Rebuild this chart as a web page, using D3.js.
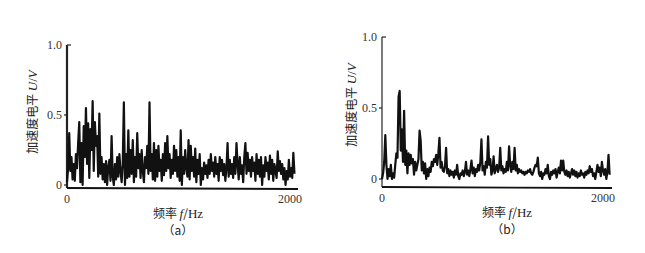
<!DOCTYPE html>
<html lang="zh">
<head>
<meta charset="UTF-8">
<title>加速度电平频谱</title>
<script src="https://d3js.org/d3.v7.min.js"></script>
<style>
  body { margin: 0; background: #fff; }
  svg { display: block; }
</style>
</head>
<body>
<script>
// frequency step between samples (Hz)
const step = 10;
const yTicks = [0, 0.5, 1.0];
const yTickLabels = ["0", "0.5", "1.0"];
const xTicks = [0, 2000];

// (a) acceleration level U/V, one value per 10 Hz
const levelA = [
  0.02, 0.12, 0.37, 0.10, 0.20, 0.04, 0.15, 0.03, 0.22, 0.12,
  0.30, 0.45, 0.02, 0.30, 0.00, 0.42, 0.20, 0.55, 0.15, 0.44,
  0.05, 0.40, 0.25, 0.60, 0.10, 0.45, 0.28, 0.35, 0.06, 0.51,
  0.08, 0.20, 0.04, 0.15, 0.02, 0.17, 0.00, 0.13, 0.18, 0.03,
  0.35, 0.06, 0.00, 0.15, 0.04, 0.20, 0.06, 0.22, 0.10, 0.02,
  0.15, 0.59, 0.00, 0.22, 0.05, 0.39, 0.06, 0.25, 0.08, 0.32,
  0.02, 0.20, 0.06, 0.37, 0.12, 0.22, 0.05, 0.25, 0.10, 0.02,
  0.20, 0.12, 0.28, 0.08, 0.59, 0.10, 0.22, 0.04, 0.30, 0.03,
  0.25, 0.06, 0.28, 0.10, 0.18, 0.03, 0.22, 0.07, 0.30, 0.10,
  0.35, 0.12, 0.22, 0.05, 0.18, 0.08, 0.28, 0.10, 0.25, 0.06,
  0.20, 0.03, 0.39, 0.00, 0.20, 0.08, 0.25, 0.12, 0.06, 0.32,
  0.04, 0.28, 0.10, 0.20, 0.06, 0.26, 0.02, 0.18, 0.08, 0.22,
  0.00, 0.12, 0.04, 0.16, 0.08, 0.14, 0.05, 0.18, 0.08, 0.22,
  0.10, 0.16, 0.06, 0.20, 0.08, 0.15, 0.03, 0.20, 0.10, 0.18,
  0.07, 0.15, 0.03, 0.12, 0.30, 0.06, 0.18, 0.08, 0.15, 0.05,
  0.20, 0.08, 0.30, 0.15, 0.04, 0.20, 0.08, 0.14, 0.02, 0.20,
  0.30, 0.08, 0.23, 0.10, 0.18, 0.06, 0.20, 0.10, 0.16, 0.03,
  0.22, 0.08, 0.18, 0.06, 0.20, 0.00, 0.14, 0.06, 0.20, 0.10,
  0.16, 0.04, 0.21, 0.08, 0.18, 0.03, 0.15, 0.10, 0.05, 0.24,
  0.10, 0.17, 0.08, 0.15, 0.04, 0.12, 0.00, 0.10, 0.04, 0.18,
  0.06, 0.12, 0.05, 0.23, 0.08
];

// (b)
const levelB = [
  0.00, 0.04, 0.12, 0.31, 0.10, 0.00, 0.07, 0.02, 0.10, 0.00,
  0.04, 0.01, 0.10, 0.18, 0.15, 0.58, 0.62, 0.20, 0.35, 0.12,
  0.48, 0.10, 0.20, 0.04, 0.18, 0.10, 0.17, 0.11, 0.14, 0.03,
  0.12, 0.06, 0.10, 0.14, 0.34, 0.27, 0.06, 0.12, 0.04, 0.11,
  0.00, 0.07, 0.02, 0.08, 0.05, 0.12, 0.09, 0.14, 0.12, 0.17,
  0.10, 0.18, 0.29, 0.08, 0.12, 0.06, 0.05, 0.09, 0.22, 0.04,
  0.07, 0.02, 0.06, 0.03, 0.05, 0.01, 0.06, 0.03, 0.10, 0.02,
  0.00, 0.04, 0.03, 0.06, 0.02, 0.05, 0.12, 0.03, 0.06, 0.02,
  0.07, 0.13, 0.04, 0.08, 0.02, 0.07, 0.05, 0.10, 0.06, 0.12,
  0.28, 0.06, 0.09, 0.03, 0.12, 0.08, 0.30, 0.10, 0.14, 0.03,
  0.06, 0.16, 0.04, 0.07, 0.10, 0.05, 0.08, 0.22, 0.06, 0.09,
  0.04, 0.07, 0.05, 0.12, 0.06, 0.23, 0.10, 0.05, 0.12, 0.07,
  0.22, 0.06, 0.10, 0.04, 0.07, 0.05, 0.06, 0.04, 0.05, 0.03,
  0.05, 0.04, 0.06, 0.05, 0.07, 0.04, 0.03, 0.05, 0.08, 0.10,
  0.09, 0.15, 0.04, 0.02, 0.05, 0.00, 0.04, 0.03, 0.07, 0.04,
  0.10, 0.02, 0.00, 0.05, 0.03, 0.06, 0.04, 0.07, 0.01, 0.05,
  0.08, 0.04, 0.13, 0.06, 0.13, 0.05, 0.03, 0.06, 0.02, 0.05,
  0.01, 0.04, 0.07, 0.03, 0.06, 0.02, 0.05, 0.01, 0.04, 0.02,
  0.06, 0.03, 0.04, 0.01, 0.05, 0.03, 0.06, 0.04, 0.09, 0.05,
  0.07, 0.02, 0.04, 0.00, 0.05, 0.10, 0.05, 0.08, 0.02, 0.12,
  0.06, 0.03, 0.07, 0.00, 0.05, 0.17, 0.03
];

const serif = "'Liberation Serif', 'DejaVu Serif', serif";
const cjk = "'Noto Sans CJK SC', sans-serif";

const svg = d3.select("body").append("svg")
  .attr("width", 645)
  .attr("height", 253);

const panels = [
  { data: levelA, tag: "（a）", x0: 67, x1: 290, y0: 185, y1: 45, axisY: 188, xEnd: 298, yLabelX: 33, yAxisW: 2.2, titleX: 178 },
  { data: levelB, tag: "（b）", x0: 382, x1: 603, y0: 179, y1: 37, axisY: 187, xEnd: 612, yLabelX: 352, yAxisW: 1.2, titleX: 507 }
];

panels.forEach(p => {
  const g = svg.append("g");
  const x = d3.scaleLinear().domain([0, 2000]).range([p.x0, p.x1]);
  const y = d3.scaleLinear().domain([0, 1]).range([p.y0, p.y1]);

  // y axis
  g.append("line")
    .attr("x1", x(0)).attr("x2", x(0))
    .attr("y1", y(1)).attr("y2", p.axisY)
    .attr("stroke", "#222").attr("stroke-width", p.yAxisW);
  g.selectAll(".ytick").data(yTicks).enter().append("line")
    .attr("x1", x(0)).attr("x2", (d, i) => x(0) + (i === 2 ? 4 : -3))
    .attr("y1", d => y(d)).attr("y2", d => y(d))
    .attr("stroke", "#222").attr("stroke-width", 1.2);
  g.selectAll(".ylab").data(yTicks).enter().append("text")
    .attr("font-family", serif).attr("font-size", 12).attr("fill", "#333")
    .attr("x", x(0) - 5)
    .attr("y", d => y(d) + 4)
    .attr("text-anchor", "end")
    .text((d, i) => yTickLabels[i]);

  // x axis
  g.append("line")
    .attr("x1", x(0)).attr("x2", p.xEnd)
    .attr("y1", p.axisY).attr("y2", p.axisY + 1)
    .attr("stroke", "#111").attr("stroke-width", 1.8);
  g.selectAll(".xlab").data(xTicks).enter().append("text")
    .attr("font-family", serif).attr("font-size", 12).attr("fill", "#333")
    .attr("x", d => x(d))
    .attr("y", p.axisY + 15)
    .attr("text-anchor", "middle")
    .text(d => d);

  // spectrum line
  const line = d3.line()
    .x((d, i) => x(i * step))
    .y(d => y(d));
  g.append("path")
    .datum(p.data)
    .attr("d", line)
    .attr("fill", "none")
    .attr("stroke", "#111")
    .attr("stroke-width", 2.2)
    .attr("stroke-linejoin", "round");

  // axis titles
  const xt = g.append("text")
    .attr("font-family", cjk).attr("font-size", 12).attr("fill", "#222")
    .attr("x", p.titleX)
    .attr("y", p.axisY + 30)
    .attr("text-anchor", "middle");
  xt.append("tspan").text("频率 ");
  xt.append("tspan").attr("font-family", serif).attr("font-style", "italic").attr("font-size", 13).text("f");
  xt.append("tspan").text("/");
  xt.append("tspan").attr("font-family", serif).attr("font-size", 13).text("Hz");

  g.append("text")
    .attr("font-family", cjk).attr("font-size", 12).attr("fill", "#222")
    .attr("x", p.titleX)
    .attr("y", p.axisY + 47)
    .attr("text-anchor", "middle")
    .text(p.tag);

  const yt = g.append("text")
    .attr("font-family", cjk).attr("font-size", 12).attr("fill", "#222")
    .attr("transform", `translate(${p.yLabelX},${(p.y0 + p.y1) / 2 - 3}) rotate(-90)`)
    .attr("dy", "0.35em")
    .attr("text-anchor", "middle");
  yt.append("tspan").text("加速度电平 ");
  yt.append("tspan").attr("font-family", serif).attr("font-style", "italic").attr("font-size", 13).text("U");
  yt.append("tspan").attr("font-family", serif).attr("font-size", 13).text("/");
  yt.append("tspan").attr("font-family", serif).attr("font-style", "italic").attr("font-size", 13).text("V");
});
</script>
</body>
</html>
